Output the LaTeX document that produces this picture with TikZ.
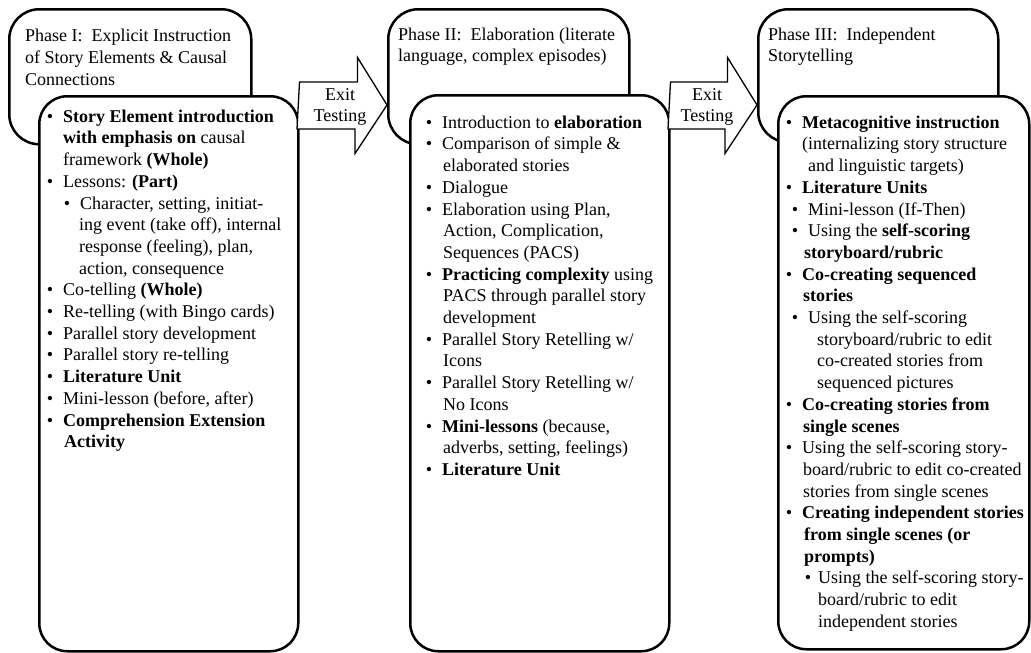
\documentclass[tikz,border=0pt]{standalone}
\usepackage{fontspec}
\setmainfont{Liberation Serif}
\usetikzlibrary{calc}
\newcommand{\Bi}[2][10]{\hspace*{#2pt}\llap{\textbullet\hspace{#1pt}}}
\newcommand{\In}[1]{\hspace*{#1pt}}
\newcommand{\fst}{\rule{0pt}{15pt}}
\begin{document}
\begin{tikzpicture}[x=1pt,y=-1pt,
  box/.style={draw, fill=white, line width=2.5pt, rounded corners=30pt, inner sep=0pt, anchor=north west},
  txt/.style={inner sep=0pt, anchor=north west, align=left, font=\fontsize{18}{21.7}\selectfont},
  lbl/.style={inner sep=0pt, anchor=north, align=center, font=\fontsize{18}{21.7}\selectfont},
  blockarrow/.style={draw, fill=white, line width=1.3pt, line join=miter}]
\useasboundingbox (0,0) rectangle (1031,653);

% Phase I
\node[box, minimum width=242pt, minimum height=135pt] (h1) at (8,8) {};
\node[box, minimum width=259pt, minimum height=555pt, rounded corners=28pt] (c1) at (38,95) {};
% arrow 1
\coordinate (a1tail) at (c1.east |- 0,105);
\coordinate (a1tip) at (387,105);
\draw[blockarrow] (a1tail) ++(0,-23) -- ++(58,0) -- ++(0,-24.5) -- (a1tip) -- ++(-32,48.5) -- ++(0,-24.5) -- ++(-58,0) -- cycle;

% Phase II
\node[box, minimum width=241pt, minimum height=135pt] (h2) at (387,8) {};
\node[box, minimum width=259pt, minimum height=556pt, rounded corners=28pt] (c2) at (409,94) {};
% arrow 2
\coordinate (a2tail) at (c2.east |- 0,105);
\coordinate (a2tip) at (757,105);
\draw[blockarrow] (a2tail) ++(0,-23) -- ++(57,0) -- ++(0,-24.5) -- (a2tip) -- ++(-32,48.5) -- ++(0,-24.5) -- ++(-57,0) -- cycle;

% Phase III
\node[box, minimum width=240pt, minimum height=133pt] (h3) at (757,8) {};
\node[box, minimum width=251pt, minimum height=553pt, rounded corners=28pt] (c3) at (777,95) {};

% labels on arrows
\node[lbl] (x1) at (340,85) {\fst Exit\\Testing};
\node[lbl] (x2) at (707,85) {\fst Exit\\Testing};

% header texts
\node[txt] (h1t) at (25,26.5) {\fst Phase I:\ \ Explicit Instruction\\of Story Elements \& Causal\\Connections};
\node[txt] (h2t) at (398,25) {\fst Phase II:\ \ Elaboration (literate\\language, complex episodes)};
\node[txt] (h3t) at (768,25) {\fst Phase III:\ \ Independent\\Storytelling};

% content texts
\node[txt] (c1t) at (63,107) {%
\fst\Bi{0}\textbf{Story Element introduction}\\
\In{0}\textbf{with emphasis on} causal\\
\In{0}framework \textbf{(Whole)}\\
\Bi{0}Lessons: \textbf{(Part)}\\
\Bi{17}Character, setting, initiat-\\
\In{16}ing event (take off), internal\\
\In{16}response (feeling), plan,\\
\In{16}action, consequence\\
\Bi{0}Co-telling \textbf{(Whole)}\\
\Bi{0}Re-telling (with Bingo cards)\\
\Bi{0}Parallel story development\\
\Bi{0}Parallel story re-telling\\
\Bi{0}\textbf{Literature Unit}\\
\Bi{0}Mini-lesson (before, after)\\
\Bi{0}\textbf{Comprehension Extension}\\
\In{1}\textbf{Activity}};

\node[txt] (c2t) at (442,113) {%
\fst\Bi{0}Introduction to \textbf{elaboration}\\
\Bi{0}Comparison of simple \&\\
\In{1}elaborated stories\\
\Bi{0}Dialogue\\
\Bi{0}Elaboration using Plan,\\
\In{1}Action, Complication,\\
\In{1}Sequences (PACS)\\
\Bi{0}\textbf{Practicing complexity} using\\
\In{1}PACS through parallel story\\
\In{1}development\\
\Bi{0}Parallel Story Retelling w/\\
\In{1}Icons\\
\Bi{0}Parallel Story Retelling w/\\
\In{1}No Icons\\
\Bi{0}\textbf{Mini-lessons} (because,\\
\In{1}adverbs, setting, feelings)\\
\Bi{0}\textbf{Literature Unit}};

\node[txt] (c3t) at (802,113) {%
\fst\Bi{0}\textbf{Metacognitive instruction}\\
\In{0}(internalizing story structure\\
\In{6}and linguistic targets)\\
\Bi{0}\textbf{Literature Units}\\
\Bi{6}Mini-lesson (If-Then)\\
\Bi{6}Using the \textbf{self-scoring}\\
\In{2}\textbf{storyboard/rubric}\\
\Bi{0}\textbf{Co-creating sequenced}\\
\In{1}\textbf{stories}\\
\Bi{6}Using the self-scoring\\
\In{15}storyboard/rubric to edit\\
\In{15}co-created stories from\\
\In{15}sequenced pictures\\
\Bi{0}\textbf{Co-creating stories from}\\
\In{1}\textbf{single scenes}\\
\Bi{0}Using the self-scoring story-\\
\In{1}board/rubric to edit co-created\\
\In{1}stories from single scenes\\
\Bi{0}\textbf{Creating independent stories}\\
\In{2}\textbf{from single scenes (or}\\
\In{2}\textbf{prompts)}\\
\Bi[7]{16}Using the self-scoring story-\\
\In{16}board/rubric to edit\\
\In{16}independent stories};
\end{tikzpicture}
\end{document}
